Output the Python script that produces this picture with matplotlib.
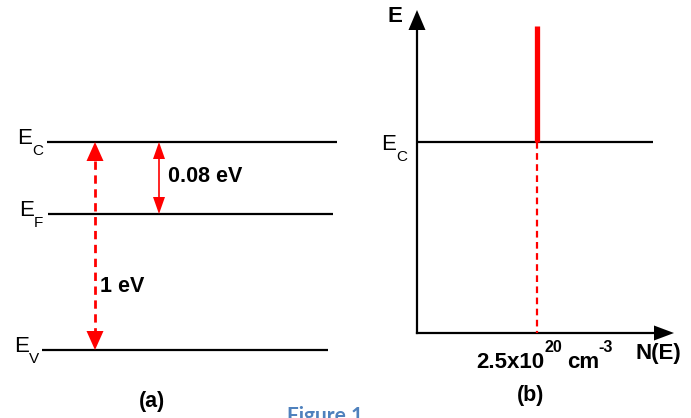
import matplotlib.pyplot as plt

plt.rcParams['font.family'] = ['Liberation Sans', 'DejaVu Sans']

RED = '#ff0000'

# panel (a): band levels, pixel coords of the original drawing
level_names = ['C', 'F', 'V']
level_y = [142, 214, 350]
level_x0 = [47, 48, 42]
level_x1 = [337, 333, 328]
label_x = [17, 19, 14]

# gap arrows
gap_x = [95, 159]
gap_top = [142, 142]
gap_bot = [350, 214]
gap_labels = ['1 eV', '0.08 eV']
gap_label_pos = [(100, 286), (168, 177)]
gap_dashed = [True, False]

# panel (b)
origin_b = (417, 333)
e_axis_top = 10
n_axis_right = 674
ec_b_y = 142
ec_b_x1 = 653
n_peak_x = 537
n_peak_top = 26
n_label = '2.5x10'

fig = plt.figure(figsize=(6.91, 4.18), dpi=100)
ax = fig.add_axes([0, 0, 1, 1])
ax.set_xlim(0, 691)
ax.set_ylim(418, 0)
ax.axis('off')


def head(x, ytip, d, w, h):
    ax.fill([x - w / 2, x + w / 2, x], [ytip + d * h, ytip + d * h, ytip],
            color=RED, lw=0, zorder=4)


def hhead(xtip, y, w, h):
    ax.fill([xtip - h, xtip - h, xtip], [y - w / 2, y + w / 2, y], color='black', lw=0, zorder=4)


def vhead(x, ytip, w, h):
    ax.fill([x - w / 2, x + w / 2, x], [ytip + h, ytip + h, ytip], color='black', lw=0, zorder=4)


def elabel(x, y, sub):
    t = ax.text(x, y + 2, 'E', fontsize=16, ha='left', va='baseline')
    ax.text(x + 15, y + 13, sub, fontsize=11, ha='left', va='baseline')
    return t


# levels
for name, y, x0, x1, lx in zip(level_names, level_y, level_x0, level_x1, label_x):
    ax.plot([x0, x1], [y, y], color='black', lw=1.6, solid_capstyle='butt')
    elabel(lx, y, name)

# gap arrows
for x, yt, yb, lab, (tx, ty), dashed in zip(gap_x, gap_top, gap_bot, gap_labels,
                                             gap_label_pos, gap_dashed):
    if dashed:
        w, h = 17, 19
        ax.plot([x, x], [yt + h, yb - h], color=RED, lw=2, ls=(0, (3, 2)))
    else:
        w, h = 12, 17
        ax.plot([x, x], [yt + h, yb - h], color=RED, lw=1.2)
    ax.text(tx, ty, lab, fontsize=15.5, fontweight='bold', ha='left', va='center')
    head(x, yt, 1, w, h)
    head(x, yb, -1, w, h)

ax.text(152, 401, '(a)', fontsize=15.5, fontweight='bold', ha='center', va='center')
ax.text(531, 395, '(b)', fontsize=15.5, fontweight='bold', ha='center', va='center')
ax.text(325, 422, 'Figure 1', fontsize=15, fontweight='bold', color='#4f81bd',
        ha='center', va='baseline', family=['Lato', 'DejaVu Sans'])

# panel (b) axes
ox, oy = origin_b
ax.plot([ox, ox], [oy, e_axis_top + 18], color='black', lw=1.6)
vhead(ox, e_axis_top, 17, 20)
ax.plot([ox, n_axis_right - 18], [oy, oy], color='black', lw=1.6)
hhead(n_axis_right, oy, 15, 20)
ax.text(402, 17, 'E', fontsize=16, fontweight='bold', ha='right', va='center')
ax.text(658, 354, 'N(E)', fontsize=16, fontweight='bold', ha='center', va='center')

ax.plot([ox, ec_b_x1], [ec_b_y, ec_b_y], color='black', lw=1.6, solid_capstyle='butt')
elabel(381, ec_b_y + 6, 'C')

ax.plot([n_peak_x, n_peak_x], [n_peak_top, ec_b_y], color=RED, lw=3.8, solid_capstyle='butt')
ax.plot([n_peak_x, n_peak_x], [ec_b_y, oy], color=RED, lw=1.6, ls=(0, (3, 2)))

ax.text(476, 368, n_label, fontsize=16, fontweight='bold', ha='left', va='baseline')
ax.text(545, 352, '20', fontsize=11.5, fontweight='bold', ha='left', va='baseline')
ax.text(567, 368, 'cm', fontsize=16, fontweight='bold', ha='left', va='baseline')
ax.text(598, 352, '-3', fontsize=11.5, fontweight='bold', ha='left', va='baseline')

fig.savefig('out.png', dpi=100)
